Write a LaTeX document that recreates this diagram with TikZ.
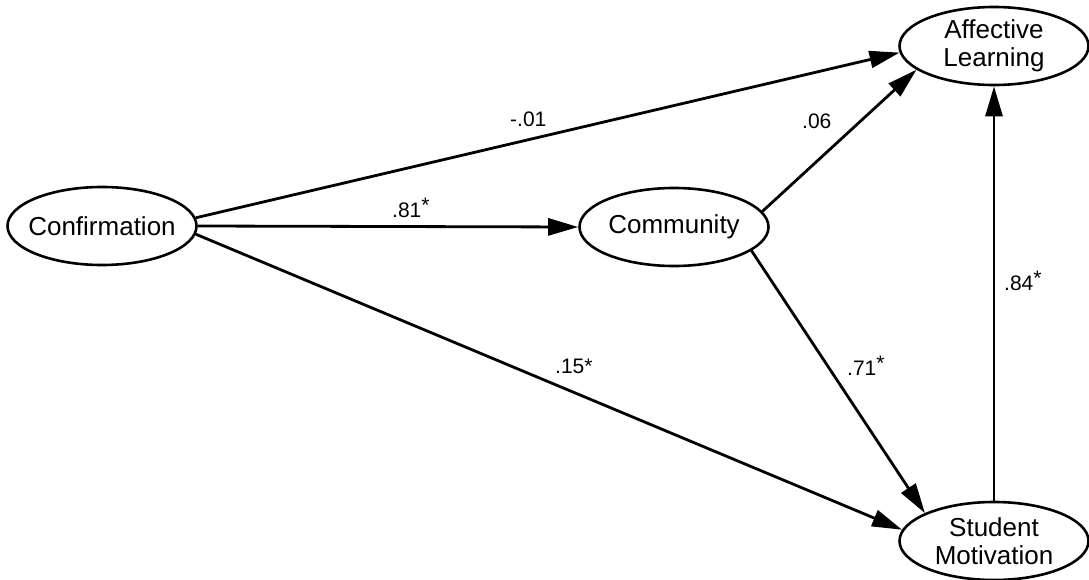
\documentclass[tikz,border=0pt]{standalone}
\usepackage{fontspec}
\setmainfont{Liberation Sans}
\usetikzlibrary{arrows.meta,shapes.geometric}

\begin{document}
\begin{tikzpicture}[x=1pt,y=-1pt,
    var/.style={draw,ellipse,line width=2.6pt,inner xsep=-10pt,inner ysep=0pt,
      minimum width=189pt,minimum height=78pt,align=center,
      font=\fontsize{26}{28}\selectfont},
    arr/.style={line width=2.8pt,-{Triangle[length=30pt,width=17pt]}},
    coef/.style={inner sep=0pt,anchor=base west,font=\fontsize{21}{24}\selectfont}]
      \useasboundingbox (0,0) rectangle (1089,580);
      %
      \node[var] (conf) at (102,226) {Confirmation};
      \node[var] (comm) at (674,227) {Community};
      \node[var] (aff) at (994,46) {Affective\\Learning};
      \node[var] (stud) at (994,541) {Student\\Motivation};
      %
      \draw[arr] (conf.5) -- (aff.184);
      \draw[arr] (conf.east) -- (comm.west);
      \draw[arr] (conf.-5) -- (stud.173);
      \draw[arr] (comm.10) -- (aff.197);
      \draw[arr] (comm.-17) -- (stud.158);
      \draw[arr] (stud.north) -- (aff.south);
      %
      \node[coef] (c01) at (510,127) {-.01};
      \node[coef] (c81) at (392,217) {.81\raisebox{5pt}{*}};
      \node[coef] (c15) at (555,373) {.15*};
      \node[coef] (c06) at (802,129) {.06};
      \node[coef] (c71) at (847,375) {.71\raisebox{5pt}{*}};
      \node[coef] (c84) at (1004,290) {.84\raisebox{5pt}{*}};
\end{tikzpicture}
\end{document}
